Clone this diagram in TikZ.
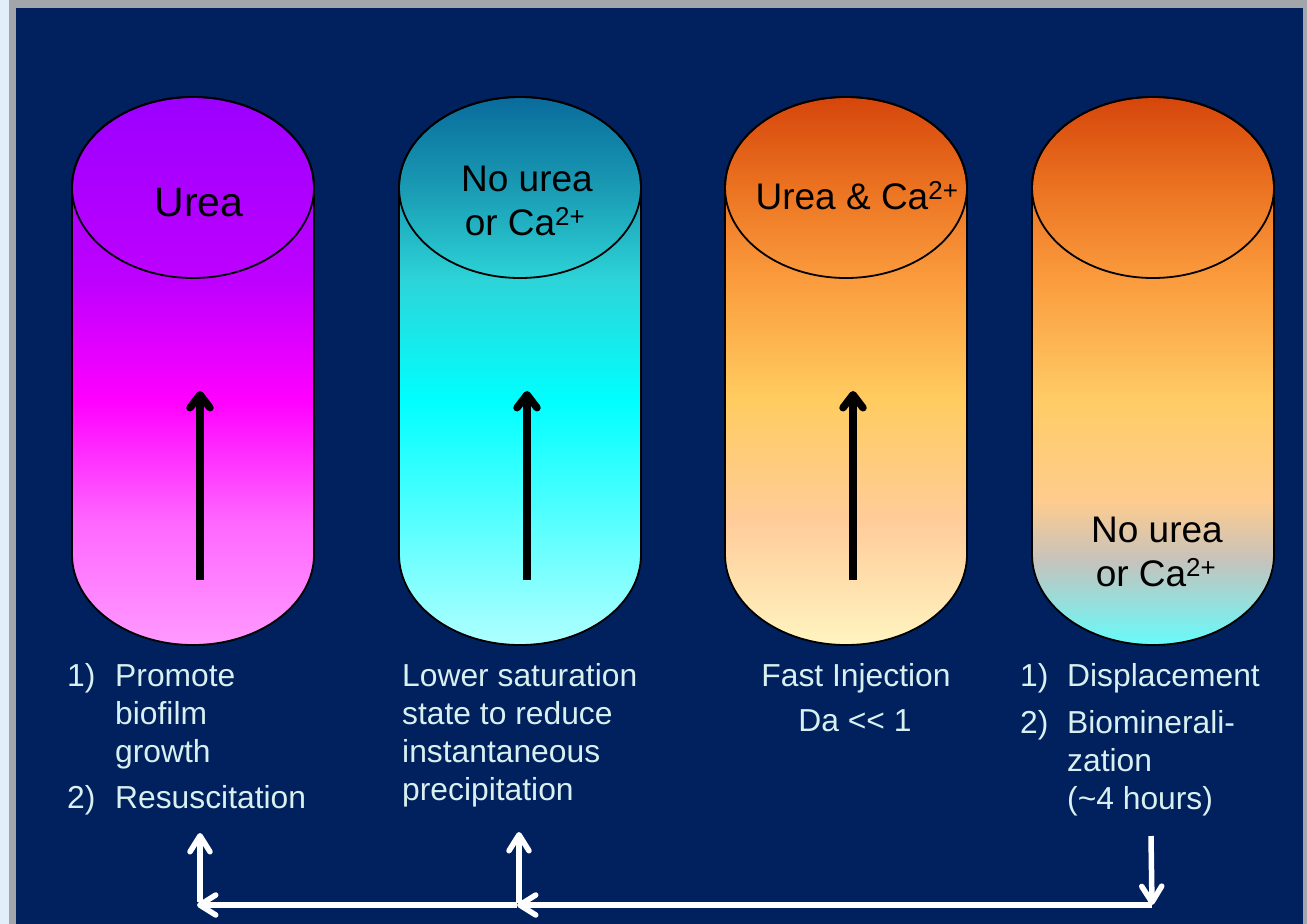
\documentclass[tikz,border=0pt]{standalone}
\usepackage{fontspec}
\setmainfont{Liberation Sans}
\usetikzlibrary{arrows.meta}
\definecolor{navy}{HTML}{00205E}
\definecolor{pagebg}{HTML}{E2EEFA}
\definecolor{shadowgray}{HTML}{A2A5A9}
\definecolor{txtc}{HTML}{D8F0F0}
\newcommand\cylpath[1]{(#1-121,187.5) -- (#1-121,554.5) arc[start angle=180,end angle=0,x radius=121,y radius=90.5] -- (#1+121,187.5) arc[start angle=0,end angle=-180,x radius=121,y radius=90.5] -- cycle}
\newcommand\band[5]{\definecolor{bandtop}{HTML}{#4}\definecolor{bandbot}{HTML}{#5}\shade[top color=bandtop,bottom color=bandbot] (#1-125,#2) rectangle (#1+125,#3+0.6);}
\begin{document}
\begin{tikzpicture}[x=1pt,y=-1pt,
  toptxt/.style={font=\fontsize{37}{40}\selectfont, text=black, inner sep=0pt, anchor=base},
  bt/.style={font=\fontsize{31.8}{36}\selectfont, text=txtc, inner sep=0pt, anchor=base west},
  btc/.style={font=\fontsize{31.8}{36}\selectfont, text=txtc, inner sep=0pt, anchor=base},
  blackarrow/.style={line width=7.5pt, black, -{Straight Barb[length=13pt,width=20pt,round]}},
  whitearrow/.style={line width=5.5pt, white, -{Straight Barb[length=16pt,width=20pt,round]}},
  cyledge/.style={draw=black, line width=1.8pt}]
\useasboundingbox (0,0) rectangle (1307,924);
% page background and panel
\fill[pagebg] (0,0) rectangle (1307,924);
\fill[shadowgray] (9,0) rectangle (1307,924);
\fill[navy] (16,8) rectangle (1303,924);

% cylinder 1
\begin{scope}
\clip \cylpath{193};
\band{193}{90}{280}{9A00FF}{BE00FF}
\band{193}{280}{400}{BE00FF}{FF00FF}
\band{193}{400}{520}{FF00FF}{FF66FF}
\band{193}{520}{650}{FF66FF}{FF9CFF}
\end{scope}
\draw[cyledge] \cylpath{193};
\draw[cyledge] (193,187.5) ellipse [x radius=121, y radius=90.5];

% cylinder 2
\begin{scope}
\clip \cylpath{520};
\band{520}{90}{190}{08689A}{1A9CB4}
\band{520}{190}{280}{1A9CB4}{2DD4D8}
\band{520}{280}{400}{2DD4D8}{00FFFF}
\band{520}{400}{650}{00FFFF}{B4FFFF}
\end{scope}
\draw[cyledge] \cylpath{520};
\draw[cyledge] (520,187.5) ellipse [x radius=121, y radius=90.5];

% cylinder 3
\begin{scope}
\clip \cylpath{846};
\band{846}{90}{190}{D4420A}{EC7422}
\band{846}{190}{280}{EC7422}{FB9C3E}
\band{846}{280}{400}{FB9C3E}{FFCC60}
\band{846}{400}{520}{FFCC60}{FFCC9A}
\band{846}{520}{650}{FFCC9A}{FFF6C2}
\end{scope}
\draw[cyledge] \cylpath{846};
\draw[cyledge] (846,187.5) ellipse [x radius=121, y radius=90.5];

% cylinder 4
\begin{scope}
\clip \cylpath{1153};
\band{1153}{90}{190}{D4420A}{EC7422}
\band{1153}{190}{280}{EC7422}{FB9C3E}
\band{1153}{280}{400}{FB9C3E}{FFCC66}
\band{1153}{400}{500}{FFCC66}{FFCC8E}
\band{1153}{500}{560}{FFCC8E}{C6C2BC}
\band{1153}{560}{650}{C6C2BC}{60FFFF}
\end{scope}
\draw[cyledge] \cylpath{1153};
\draw[cyledge] (1153,187.5) ellipse [x radius=121, y radius=90.5];

% labels inside cylinders
\node[toptxt, font=\fontsize{41}{44}\selectfont] (u1) at (199,216) {Urea};
\node[toptxt] (u2a) at (527,191) {No urea};
\node[toptxt] (u2b) at (525,235) {or Ca\textsuperscript{2+}};
\node[toptxt] (u3) at (857,209) {Urea \& Ca\textsuperscript{2+}};
\node[toptxt] (u4a) at (1157,542) {No urea};
\node[toptxt] (u4b) at (1156,586) {or Ca\textsuperscript{2+}};

% flow arrows inside cylinders
\coordinate (f1s) at (200,580); \coordinate (f1e) at (200,391);
\coordinate (f2s) at (527,580); \coordinate (f2e) at (527,391);
\coordinate (f3s) at (853,580); \coordinate (f3e) at (853,391);
\draw[blackarrow] (f1s) -- (f1e);
\draw[blackarrow] (f2s) -- (f2e);
\draw[blackarrow] (f3s) -- (f3e);

% text below cylinders
\node[bt] (n1a) at (67,686) {1)};
\node[bt] (t1a) at (115,686) {Promote};
\node[bt] (t1b) at (115,724) {biofilm};
\node[bt] (t1c) at (115,762) {growth};
\node[bt] (n1b) at (67,808) {2)};
\node[bt] (t1d) at (115,808) {Resuscitation};

\node[bt] (t2a) at (402,686) {Lower saturation};
\node[bt] (t2b) at (402,724) {state to reduce};
\node[bt] (t2c) at (402,762) {instantaneous};
\node[bt] (t2d) at (402,800) {precipitation};

\node[btc] (t3a) at (856,686) {Fast Injection};
\node[btc] (t3b) at (855,731) {Da {<}{<} 1};

\node[bt] (n4a) at (1020,686) {1)};
\node[bt] (t4a) at (1067,686) {Displacement};
\node[bt] (n4b) at (1020,733) {2)};
\node[bt] (t4b) at (1067,733) {Biominerali-};
\node[bt] (t4c) at (1067,771) {zation};
\node[bt] (t4d) at (1067,809) {(\textasciitilde 4 hours)};

% bottom white connectors
\coordinate (b1) at (197,905);
\coordinate (b1v) at (200,902);
\coordinate (b1t) at (200,833);
\coordinate (b2) at (517,905);
\coordinate (b2v) at (519,903);
\coordinate (b2t) at (519,832);
\coordinate (b4) at (1152,905);
\coordinate (b4t) at (1151,836);
\draw[whitearrow] (b4) -- (b2);
\draw[whitearrow] (b2) -- (b1);
\draw[whitearrow] (b1v) -- (b1t);
\draw[whitearrow] (b2v) -- (b2t);
\draw[whitearrow] (b4t) -- (b4);
\end{tikzpicture}
\end{document}
